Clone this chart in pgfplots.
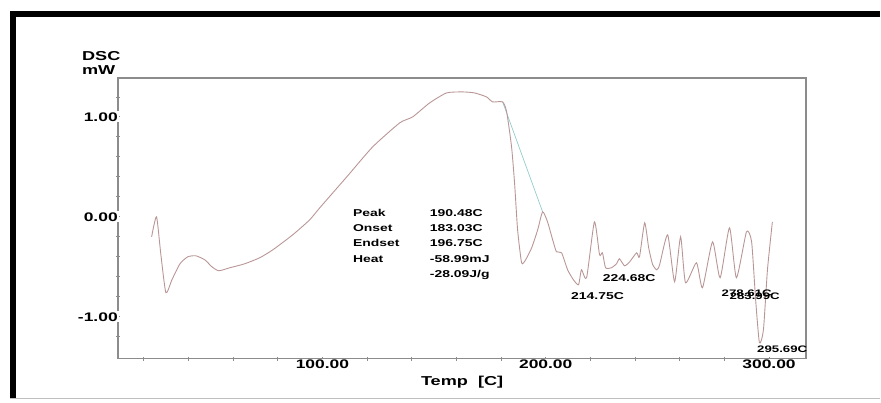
\documentclass[border=0pt]{standalone}
\usepackage{pgfplots}
\pgfplotsset{compat=1.18}
\usepackage{fontspec}
\setmainfont{Liberation Sans}[FakeStretch=1.4]
\definecolor{dsc}{RGB}{185,150,150}
\definecolor{base}{RGB}{150,205,205}
\definecolor{axgray}{RGB}{140,140,140}
\newcommand{\fs}[1]{\fontsize{#1}{#1}\selectfont\bfseries}
\begin{document}
\begin{tikzpicture}
\path (0bp,0bp) rectangle (881bp,403bp);
% outer frame
\fill[black] (10bp,386bp) rectangle (881bp,392bp);
\fill[black] (10bp,5bp) rectangle (16bp,392bp);
\draw[gray!50, line width=1.5bp] (10bp,4bp) -- (881bp,4bp);
\begin{axis}[
    set layers,
    clip=false,
    at={(118bp,44bp)}, anchor=south west,
    width=689bp, height=281bp, scale only axis,
    xmin=8.4, xmax=316.7, ymin=-1.42, ymax=1.39,
    axis line style={draw=axgray, line width=1.4bp},
    xtick pos=bottom, ytick pos=left, tick align=center,
    major tick length=4bp, minor tick length=4bp,
    every tick/.style={axgray, line width=0.8bp},
    xtick={100,200,300}, xticklabels={100.00,200.00,300.00},
    ytick={-1,0,1}, yticklabels={-1.00,0.00,1.00},
    minor xtick={20,40,60,80,120,140,160,180,220,240,260,280},
    minor ytick={-1.2,-0.8,-0.6,-0.4,-0.2,0.2,0.4,0.6,0.8,1.2},
    xticklabel style={font=\fs{12.5}, fill=white, inner sep=1bp, anchor=north, yshift=2bp},
    yticklabel style={font=\fs{12.5}, fill=white, inner sep=1bp, anchor=east, xshift=3bp},
    xlabel={Temp\ \ [C]},
    xlabel style={font=\fs{13}, at={(rel axis cs:0.5,0)}, anchor=center, yshift=-23bp},
    ylabel={DSC\\mW},
    ylabel style={font=\fontsize{13}{14}\selectfont\bfseries, rotate=-90, at={(rel axis cs:0,1)},
        anchor=south west, align=left, inner sep=0pt, xshift=-36bp, yshift=3bp},
]
% upper and right lines of the plot box
\draw[axgray, line width=2bp] (rel axis cs:0,1) -- (rel axis cs:1,1) -- (rel axis cs:1,0);
% baseline of the integration
\addplot[base, line width=0.7bp] coordinates {(180.7,1.15) (198.6,0.05)};
% DSC curve
\addplot[dsc, line width=0.9bp, smooth, tension=0.35] coordinates {
(23.5,-0.20) (25.7,0.00) (27.65,-0.38) (29.9,-0.76) (32.6,-0.63) (36.2,-0.47)
(39.7,-0.40) (43.3,-0.39) (47.3,-0.43) (50.5,-0.50) (53.6,-0.54) (58.5,-0.51)
(65.2,-0.47) (71.9,-0.41) (77.8,-0.33) (86.7,-0.18) (94.3,-0.03) (98.8,0.09)
(110.9,0.40) (122.5,0.70) (134.6,0.94) (140.4,1.00) (148.0,1.14) (155.6,1.24)
(162.8,1.25) (168.1,1.24) (173.5,1.20) (176.2,1.15) (180.7,1.15) (182.5,1.05)
(184.7,0.70) (186.1,0.32) (187.4,-0.13) (189.2,-0.46) (191.0,-0.43) (193.7,-0.31)
(196.4,-0.13) (198.6,0.05) (200.8,-0.05) (203.1,-0.23) (204.8,-0.35) (207.1,-0.36)
(209.8,-0.53) (212.4,-0.63) (214.7,-0.68) (216.0,-0.53) (218.3,-0.61) (221.8,-0.05)
(224.1,-0.38) (225.4,-0.36) (226.8,-0.51) (229.4,-0.51) (231.7,-0.47) (233.0,-0.42)
(235.3,-0.49) (237.6,-0.45) (240.7,-0.36) (242.0,-0.40) (244.3,-0.06) (246.1,-0.31)
(247.9,-0.48) (249.7,-0.53) (251.0,-0.48) (254.6,-0.18) (257.7,-0.65) (260.4,-0.20)
(262.6,-0.66) (267.5,-0.46) (270.2,-0.71) (274.7,-0.25) (278.1,-0.61) (282.3,-0.11)
(285.4,-0.61) (289.9,-0.15) (292.2,-0.25) (294.0,-0.83) (295.7,-1.26) (297.5,-1.13)
(299.3,-0.53) (301.5,-0.05)
};
% peak annotations
\node[font=\fs{10}, anchor=west, inner sep=0pt] at (axis cs:211.3,-0.79) {214.75C};
\node[font=\fs{10}, anchor=west, inner sep=0pt] at (axis cs:225.5,-0.61) {224.68C};
\node[font=\fs{9.5}, anchor=west, inner sep=0pt] at (axis cs:278.7,-0.76) {278.61C};
\node[font=\fs{9.5}, anchor=west, inner sep=0pt] at (axis cs:282.3,-0.80) {283.99C};
\node[font=\fs{9.5}, anchor=west, inner sep=0pt] at (axis cs:294.6,-1.33) {295.69C};
% result block
\node[anchor=north west, inner sep=0pt, align=left, font=\fontsize{10}{15.2}\selectfont\bfseries]
  at (axis cs:113.6,0.075) {%
  \makebox[77bp][l]{Peak}190.48C\\
  \makebox[77bp][l]{Onset}183.03C\\
  \makebox[77bp][l]{Endset}196.75C\\
  \makebox[77bp][l]{Heat}-58.99mJ\\
  \makebox[77bp][l]{}-28.09J/g};
\end{axis}
\end{tikzpicture}
\end{document}
